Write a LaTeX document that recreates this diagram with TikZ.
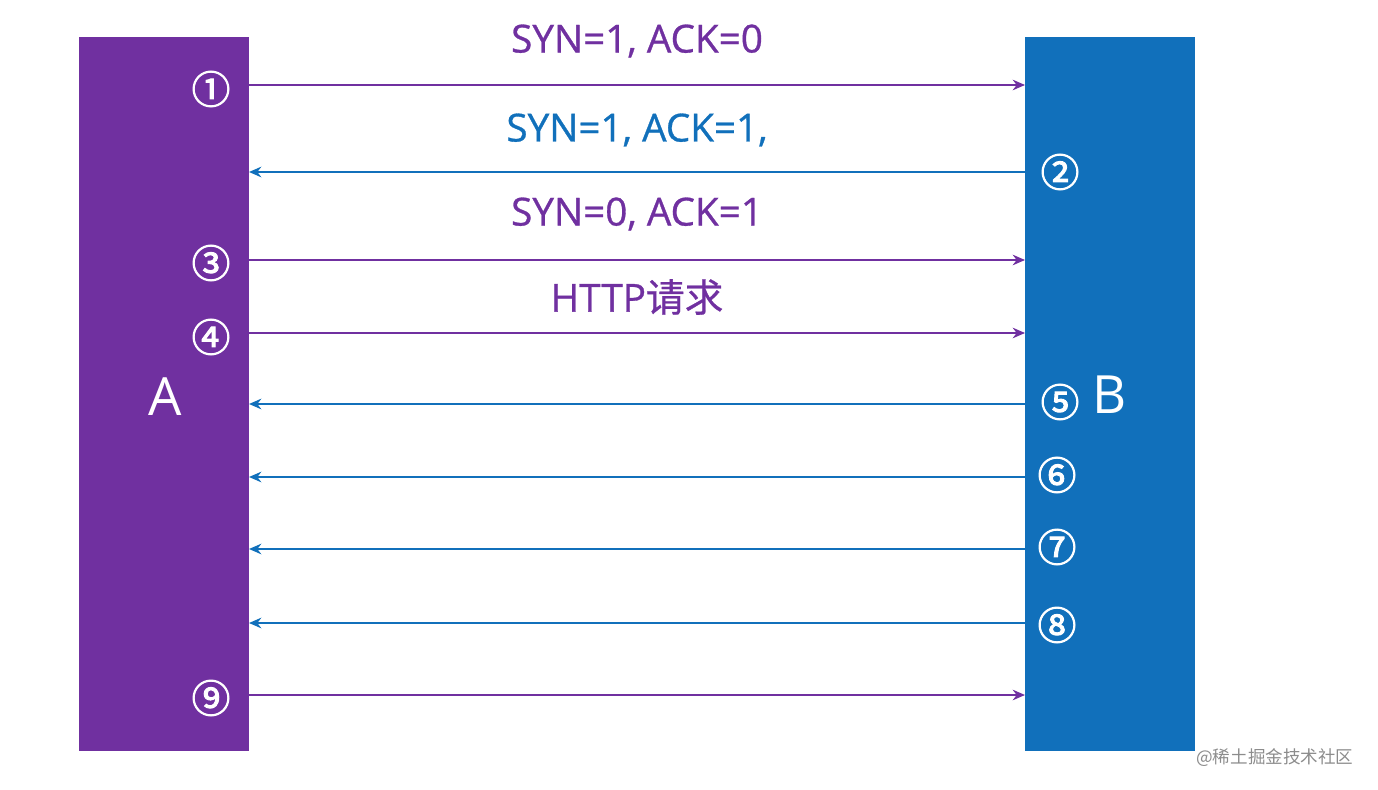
\documentclass[tikz,border=0pt]{standalone}
\usepackage{fontspec}
\setmainfont{Open Sans}
\newfontfamily\cjk{Noto Sans CJK SC}
\newfontfamily\cjknum[FakeBold=2.5]{Noto Sans CJK SC}
\newfontfamily\labelfont[FakeBold=0.8]{Open Sans}
\newfontfamily\labelcjk[FakeBold=0.8]{Noto Sans CJK SC}
\usetikzlibrary{arrows.meta}

\definecolor{mjpurple}{HTML}{7030A0}
\definecolor{mjblue}{HTML}{1170BB}

\tikzset{
  hostbox/.style={minimum width=3.4cm, minimum height=14.28cm, inner sep=0pt},
  msg/.style={line width=1.2pt, -{Stealth[length=7pt,width=6pt]}},
  num/.style={text=white, font=\cjknum\fontsize{22}{22}\selectfont, inner sep=0pt},
  lbl/.style={font=\labelfont\fontsize{22}{22}\selectfont, inner sep=0pt},
}

\begin{document}
\begin{tikzpicture}[x=0.02cm, y=-0.02cm]
        \useasboundingbox (0,0) rectangle (1378,790);

        % Hosts
        \node[hostbox, fill=mjpurple] (A) at (164,394) {};
        \node[hostbox, fill=mjblue] (B) at (1110,394) {};
        \node[text=white, font=\fontsize{30}{30}\selectfont] (Aname) at (165,397) {A};
        \node[text=white, font=\fontsize{30}{30}\selectfont] (Bname) at (1110,395) {B};

        % Handshake labels
        \node[lbl, text=mjpurple] (l1) at (637,41) {SYN=1, ACK=0};
        \node[lbl, text=mjblue] (l2) at (637,130) {SYN=1, ACK=1,};
        \node[lbl, text=mjpurple] (l3) at (637,214) {SYN=0, ACK=1};
        \node[lbl, text=mjpurple] (l4) at (637,297) {HTTP{\labelcjk 请求}};

        % Ends of the messages
        \coordinate (a1) at (249,85);   \coordinate (b1) at (1025,85);
        \coordinate (a2) at (249,172);  \coordinate (b2) at (1025,172);
        \coordinate (a3) at (249,260);  \coordinate (b3) at (1025,260);
        \coordinate (a4) at (249,333);  \coordinate (b4) at (1025,333);
        \coordinate (a5) at (249,404);  \coordinate (b5) at (1025,404);
        \coordinate (a6) at (249,477);  \coordinate (b6) at (1025,477);
        \coordinate (a7) at (249,549);  \coordinate (b7) at (1025,549);
        \coordinate (a8) at (249,623);  \coordinate (b8) at (1025,623);
        \coordinate (a9) at (249,695);  \coordinate (b9) at (1025,695);

        % Messages
        \draw[msg, mjpurple] (a1) -- (b1);
        \draw[msg, mjblue] (b2) -- (a2);
        \draw[msg, mjpurple] (a3) -- (b3);
        \draw[msg, mjpurple] (a4) -- (b4);
        \draw[msg, mjblue] (b5) -- (a5);
        \draw[msg, mjblue] (b6) -- (a6);
        \draw[msg, mjblue] (b7) -- (a7);
        \draw[msg, mjblue] (b8) -- (a8);
        \draw[msg, mjpurple] (a9) -- (b9);

        % Step numbers
        \node[num] (n1) at (211,89) {①};
        \node[num] (n2) at (1060,172) {②};
        \node[num] (n3) at (211,263) {③};
        \node[num] (n4) at (211,337) {④};
        \node[num] (n5) at (1060,402) {⑤};
        \node[num] (n6) at (1057,475) {⑥};
        \node[num] (n7) at (1057,547) {⑦};
        \node[num] (n8) at (1057,625) {⑧};
        \node[num] (n9) at (211,698) {⑨};

        % Site mark
        \node[text=black!45, font=\cjk\fontsize{10}{10}\selectfont, anchor=west, inner sep=0pt] (site) at (1196,758) {@稀土掘金技术社区};
    \end{tikzpicture}
\end{document}
